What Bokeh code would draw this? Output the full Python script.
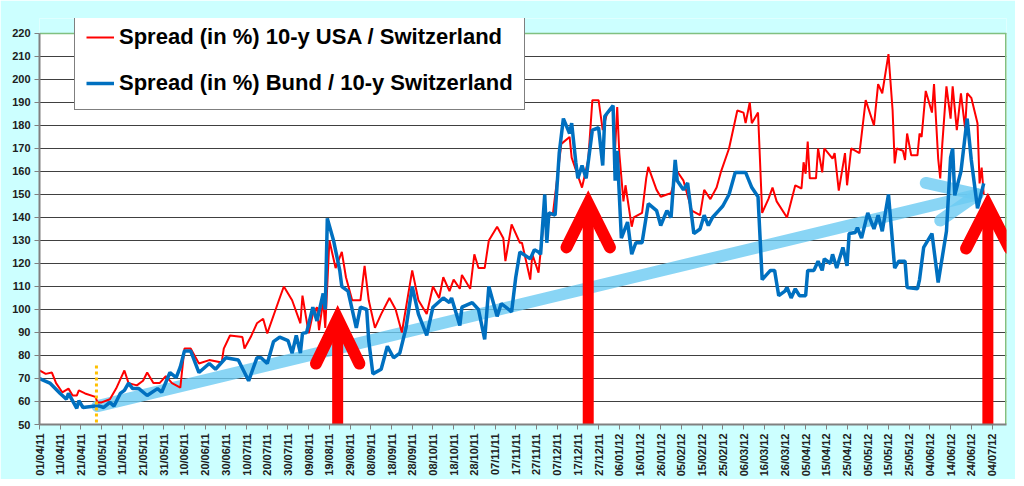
import pandas as pd
from bokeh.plotting import figure
from bokeh.models import FixedTicker, DatetimeTickFormatter, Legend, LegendItem
from bokeh.embed import file_html
from bokeh.resources import INLINE

START = "2011-04-01"
red_day = [0,3,6,8,11,14,16,18,19,22,27,28,30,34,37,41,43,47,50,52,55,58,61,64,68,70,73,77,82,88,89,92,98,99,102,105,108,110,116,118,122,126,127,130,132,134,135,137,138,140,143,146,148,151,155,157,159,162,165,169,172,175,180,183,187,190,193,195,198,200,203,204,208,210,212,215,217,221,224,225,228,232,233,237,238,241,244,245,248,252,256,257,262,265,267,270,272,274,277,278,279,280,282,283,286,287,291,293,294,298,300,303,305,308,311,315,319,321,324,327,329,333,337,340,341,343,344,347,349,352,354,356,361,365,368,369,370,371,372,375,376,378,379,383,384,386,389,390,392,396,399,403,405,407,410,412,413,414,417,418,419,421,424,425,426,428,431,432,434,435,436,438,440,441,443,445,447,448,450,453,454,455,456]
red_val = [73.5,72,72.6,68,64,65.6,62.6,62.6,64.8,63.5,62,59.6,59.6,61,65.6,73.5,68,67,69,72.6,68,68,71,68,66,83,83,76.5,78,77,83,88.7,88,83,88,94,96,89.6,105,110,104,94,106,89.6,98,101,91,104,92,130,118,125,114,104,104,119,104,92,98,105,100,90,117,104,98,110,105,114,108,113,109,115,109,124,118,118,130,136,131,121,137,129,129,113,124,116,143,140,142,172,175,166,153,165,191,191,178,185,188,170,188,168,147,154,136,140,142,157,162,152,149,150,150.6,160,156,143,141,152,148,153,159.6,170,186.5,185.6,181,190,181,185.6,142,148,153,147,140,154,152.6,164,159,173,157,157,170,159.6,170,165.6,168,151.7,168,154,170,168,191,180,198,194,211,186.5,163.5,170,169,165,176.5,167,167,176.5,175,195,185.6,198,165.6,157,172,197,183,197,178,194,178.7,194,192,181,154.8,161.7,150]
blue_day = [0,5,10,13,14,18,19,21,27,29,31,34,36,39,41,43,45,48,52,57,59,63,66,68,70,73,77,82,85,90,96,101,105,107,110,113,116,120,122,124,126,127,129,132,134,137,138,139,142,145,146,149,153,155,158,159,161,165,168,171,174,177,180,183,187,190,195,198,199,203,204,209,212,215,217,221,223,228,230,232,237,239,241,242,244,245,246,249,251,253,256,257,259,260,262,264,267,270,272,273,277,278,279,281,284,286,288,291,294,298,300,303,305,307,308,311,313,316,319,321,323,325,328,330,333,336,341,344,347,349,353,355,357,360,361,363,365,367,370,371,374,376,378,379,382,383,385,388,390,391,394,395,397,400,401,403,405,407,410,413,415,418,419,424,425,427,431,434,438,440,441,442,445,448,450,453,456]
blue_val = [70,68,63.5,61,63.5,57,60.4,57.4,58,58,57.4,59.6,58,63.5,64.8,68,65.6,65.6,62.6,65.6,64,72.6,70.4,75,82,82,72.6,76.5,74,79,78,69,79,79,76.5,86,88,86.5,81,88.7,81,89.6,90,101,95,107,100,139.6,130,117,110,108,92,101,100,86.5,72,74,84,79,81,92,110,98,88.7,101,105,103,105,93,101,103,100,87,110,97,102.6,99,114,125,122,126,125,124,150,129,142,141,168,183,176.5,181,164,157,162.6,157,178,179,162.6,184,188.7,156,169,131,138,124,129,129,146,143,136.5,143,140,165,156,152,155,133,135,141,136.5,140,143,145,150,159.6,159.6,153,149,113,117,117,106,108,109.6,105,109,106,106,117,117,121,117,122,120,124,118,127,119,133,133.5,135.6,131,142,139.6,135,141,134,150,118,121,121,109.6,109,113,127,133,111.7,134,166,170,149.6,160,183,165,144,154.8]
trend_day = [[28, 453], [428, 453], [435, 453]]
trend_val = [[58, 150], [155, 150], [138.7, 150]]
arrow_day = [144, 265, 458]
arrow_tip = [96, 146, 145]
arrow_arm_val = [76.5, 127, 126.5]
arrow_arm_dx = [10.5, 10.5, 10.5]
marker_day = 27.5
marker_val = [75.6, 50]
yticks = list(range(50, 221, 10))
Y_MIN, Y_MAX, Y_TOP = 50, 220, 226.5
X_END = 467

base = pd.Timestamp(START)
def d(x):
    return base + pd.Timedelta(days=x)
def ms(x):
    return (d(x) - pd.Timestamp("1970-01-01")).total_seconds() * 1000

CYAN = "#ccffff"
p = figure(frame_width=967, frame_height=406, x_axis_type="datetime", output_backend="svg",
           toolbar_location=None, x_range=(d(0), d(X_END)), y_range=(Y_MIN, Y_TOP),
           min_border_left=39, min_border_right=9, min_border_top=18, min_border_bottom=54,
           border_fill_color=CYAN, background_fill_color="white")
p.outline_line_color = None
p.xgrid.visible = False
p.ygrid.grid_line_color = "#404040"
p.ygrid.grid_line_width = 1
p.yaxis.ticker = FixedTicker(ticks=yticks)
p.xaxis.ticker = FixedTicker(ticks=[ms(k) for k in range(0, 461, 10)])
p.xaxis.formatter = DatetimeTickFormatter(days="%d/%m/%y", months="%d/%m/%y", hours="%d/%m/%y")
p.xaxis.major_label_orientation = 1.5708
for ax in (p.xaxis, p.yaxis):
    ax.axis_line_color = "#808080"
    ax.axis_line_width = 2
    ax.major_tick_line_color = "#808080"
    ax.major_tick_out = 5
    ax.major_tick_in = 0
    ax.minor_tick_line_color = None
    ax.major_label_text_font = "Liberation Sans"
    ax.major_label_text_font_style = "bold"
    ax.major_label_text_font_size = "11px"
    ax.major_label_text_color = "#202020"
p.yaxis.major_label_standoff = 4
p.xaxis.major_label_standoff = 4
p.yaxis.bounds = (Y_MIN, Y_MAX)

# cyan cover above the 220 line
p.quad(left=[d(-5)], right=[d(X_END + 5)], bottom=[Y_MAX], top=[Y_TOP + 5],
       fill_color=CYAN, line_color=None)
p.line([d(0), d(X_END)], [Y_MAX, Y_MAX], line_color="#80c080", line_width=1.5)
p.line([d(X_END), d(X_END)], [Y_MIN, Y_MAX], line_color="#80c080", line_width=3)

# trend band
for xs, ys in zip(trend_day, trend_val):
    p.line([d(x) for x in xs], ys, line_color="#6ccbf2", line_width=12, line_alpha=0.8, line_cap="round")

r_red = p.line([d(x) for x in red_day], red_val, line_color="#ff0000", line_width=2)
r_blue = p.line([d(x) for x in blue_day], blue_val, line_color="#0070c0", line_width=3.5)

# orange dotted marker
p.line([d(marker_day)] * 2, marker_val, line_color="#ffc000", line_width=3, line_dash="3 3")

# red arrows
for ad, tip, arm, dx in zip(arrow_day, arrow_tip, arrow_arm_val, arrow_arm_dx):
    p.line([d(ad), d(ad)], [Y_MIN, tip - 2], line_color="#ff0000", line_width=11)
    p.line([d(ad - dx), d(ad), d(ad + dx)], [arm, tip, arm], line_color="#ff0000",
           line_width=12, line_cap="round", line_join="miter")

legend = Legend(items=[LegendItem(label="Spread (in %) 10-y USA / Switzerland", renderers=[r_red]),
                       LegendItem(label="Spread (in %) Bund / 10-y Switzerland", renderers=[r_blue])],
                location=(35, 314))
legend.label_text_font = "Liberation Sans"
legend.label_text_font_style = "bold"
legend.label_text_font_size = "22px"
legend.label_text_color = "black"
legend.label_height = 30
legend.glyph_width = 28
legend.spacing = 16
legend.padding = 11
legend.margin = 0
legend.border_line_color = "black"
legend.border_line_width = 1
legend.background_fill_color = "white"
legend.background_fill_alpha = 1
p.add_layout(legend, "center")

open("out.html", "w").write(file_html(p, INLINE))
